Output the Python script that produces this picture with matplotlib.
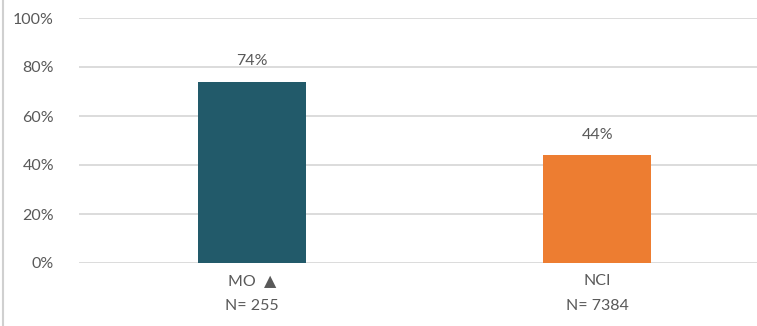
import matplotlib.pyplot as plt
from matplotlib.lines import Line2D

# chart data
groups = ["MO  \u25B2", "NCI"]
sample_sizes = [255, 7384]
shares = [74, 44]
bar_colors = ["#225A6A", "#ED7D31"]

plt.rcParams['font.family'] = ['Lato', 'DejaVu Sans']
text_color = "#595959"
grid_color = "#D9D9D9"

fig = plt.figure(figsize=(7.57, 3.26), dpi=100)
# axes runs a bit past the right edge of the figure
ax = fig.add_axes([79 / 757, 63 / 326, 691 / 757, 245 / 326])

x = list(range(len(groups)))
bars = ax.bar(x, shares, width=0.313, color=bar_colors, zorder=3)

for rect, val in zip(bars, shares):
    ax.text(rect.get_x() + rect.get_width() / 2, val + 5.5, f"{val}%",
            ha="center", va="bottom", fontsize=11.5, color=text_color)

ax.set_xlim(-0.5, 1.5)
ax.set_ylim(0, 100)
ax.set_yticks(range(0, 101, 20))
ax.set_yticklabels([f"{t}%" for t in range(0, 101, 20)])
ax.set_xticks(x)
ax.set_xticklabels([f"{g}\nN= {n}" for g, n in zip(groups, sample_sizes)],
                   linespacing=2.0)

ax.tick_params(axis="both", length=0, labelsize=11.5, labelcolor=text_color)
ax.tick_params(axis="y", pad=18)
ax.tick_params(axis="x", pad=8)
ax.grid(axis="y", color=grid_color, linewidth=1.3, zorder=0)
for side in ["top", "right", "left", "bottom"]:
    ax.spines[side].set_visible(False)

# thin frame edge on the left
fig.add_artist(Line2D([2.5 / 757, 2.5 / 757], [0, 1], transform=fig.transFigure,
                      color="#D0D0D0", linewidth=1.5))

fig.savefig("out.png", dpi=100)
